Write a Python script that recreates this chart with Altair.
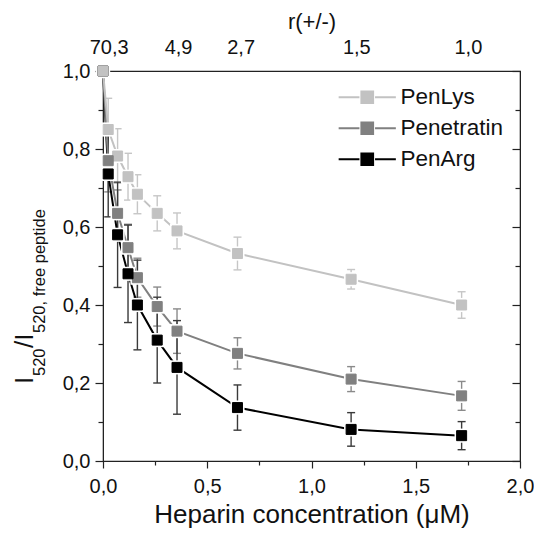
import altair as alt
import pandas as pd

# ---------------- data ----------------
series_names = ["PenLys", "Penetratin", "PenArg"]
heparin_uM = [0.0, 0.025, 0.07, 0.12, 0.165, 0.26, 0.355, 0.645, 1.19, 1.72]

penlys = [1.0, 0.85, 0.782, 0.729, 0.684, 0.635, 0.59, 0.532, 0.466, 0.40]
penlys_err = [0.0, 0.08, 0.07, 0.06, 0.05, 0.045, 0.046, 0.042, 0.025, 0.034]

penetratin = [1.0, 0.77, 0.635, 0.547, 0.47, 0.396, 0.333, 0.276, 0.21, 0.167]
penetratin_err = [0.0, 0.08, 0.06, 0.06, 0.05, 0.05, 0.057, 0.04, 0.032, 0.037]

penarg = [1.0, 0.736, 0.58, 0.48, 0.40, 0.31, 0.24, 0.137, 0.081, 0.065]
penarg_err = [0.0, 0.11, 0.135, 0.125, 0.115, 0.11, 0.12, 0.058, 0.043, 0.036]

x_ticks_major = [0.0, 0.5, 1.0, 1.5, 2.0]
x_ticks_minor = [0.25, 0.75, 1.25, 1.75]
y_ticks_major = [0.0, 0.2, 0.4, 0.6, 0.8, 1.0]
y_ticks_minor = [0.1, 0.3, 0.5, 0.7, 0.9]

r_positions = [0.027, 0.36, 0.66, 1.215, 1.75]
r_labels = ["70,3", "4,9", "2,7", "1,5", "1,0"]

line_colors = ["#c2c2c2", "#808080", "#000000"]
err_colors = ["#c6c6c6", "#8a8a8a", "#3a3a3a"]

# ---------------- table ----------------
rows = []
for si, (name, vals, errs) in enumerate(zip(series_names,
                                            [penlys, penetratin, penarg],
                                            [penlys_err, penetratin_err, penarg_err])):
    for xv, yv, ev in zip(heparin_uM, vals, errs):
        # drawing order: at x = 0 the light series sits on top, elsewhere the dark one
        z = (0, -si) if xv == 0 else (1, si)
        rows.append({"series": name, "x": xv, "y": yv,
                     "lo": yv - ev, "hi": yv + ev, "z0": z[0], "z1": z[1]})
df = pd.DataFrame(rows).sort_values(["z0", "z1", "x"]).reset_index(drop=True)

W, H = 417, 390
FONT = "Liberation Sans"
AX = "#222222"

comma_fmt = "replace(format(datum.value, '.1f'), '.', ',')"


def cond_expr(positions, labels):
    expr = f"'{labels[-1]}'"
    for i in range(len(positions) - 2, -1, -1):
        mid = (positions[i] + positions[i + 1]) / 2
        expr = f"datum.value < {mid:.4f} ? '{labels[i]}' : ({expr})"
    return expr


xs = alt.Scale(domain=[0, 2], nice=False, zero=False)
ys = alt.Scale(domain=[0, 1], nice=False, zero=False)
col_scale = alt.Scale(domain=series_names, range=line_colors)

base = alt.Chart(df)

legend_path = "M-4.4,0H-1.2M1.2,0H4.4M-0.9,-0.9H0.9V0.9H-0.9Z"
leg = alt.Legend(orient="none", legendX=253, legendY=15, title=None,
                 symbolType=legend_path, symbolSize=169, symbolStrokeWidth=2,
                 labelFontSize=22.5, labelFont=FONT, labelColor="#111111",
                 labelOffset=22, rowPadding=8, padding=0)

# ---------------- error bars (one fixed colour per series) ----------------
err_layers = []
for name, ecol in zip(series_names, err_colors):
    sub = base.transform_filter(alt.datum.series == name).transform_filter("datum.hi > datum.lo")
    err_layers.append(sub.mark_rule(strokeWidth=1.4, color=ecol).encode(
        x=alt.X("x:Q", scale=xs, axis=None),
        y=alt.Y("lo:Q", scale=ys, axis=None),
        y2="hi:Q"))
    for end in ["lo", "hi"]:
        err_layers.append(sub.mark_rule(strokeWidth=1.4, color=ecol,
                                        xOffset=-4, x2Offset=4).encode(
            x=alt.X("x:Q", scale=xs, axis=None), x2="x:Q",
            y=alt.Y(f"{end}:Q", scale=ys, axis=None)))

lines = base.mark_line(strokeWidth=2).encode(
    x=alt.X("x:Q", scale=xs, axis=None),
    y=alt.Y("y:Q", scale=ys, axis=None),
    stroke=alt.Stroke("series:N", scale=col_scale, legend=leg),
)

halo = base.mark_square(size=200, color="white", opacity=1).encode(
    x=alt.X("x:Q", scale=xs, axis=None),
    y=alt.Y("y:Q", scale=ys, axis=None),
)

squares = base.mark_square(size=100, opacity=1, strokeWidth=1).encode(
    x=alt.X("x:Q", scale=xs, axis=None),
    y=alt.Y("y:Q", scale=ys, axis=None),
    fill=alt.Fill("series:N", scale=col_scale, legend=leg),
    stroke=alt.Stroke("series:N", scale=col_scale, legend=leg),
)

# ---------------- axis carrier layers ----------------
common_ax = dict(grid=False, domainColor=AX, tickColor=AX, labelColor="#111111",
                 labelFont=FONT, titleFont=FONT, titleColor="#111111")

ax_major = base.mark_point(opacity=0).encode(
    x=alt.X("x:Q", scale=xs, axis=alt.Axis(
        orient="bottom", values=x_ticks_major, labelExpr=comma_fmt,
        tickSize=7, tickWidth=1.2, labelPadding=8, labelFontSize=20,
        labelFlush=False, title="Heparin concentration (μM)",
        titleFontSize=26, titleFontWeight="normal", titlePadding=5, **common_ax)),
    y=alt.Y("y:Q", scale=ys, axis=alt.Axis(
        orient="left", values=y_ticks_major, labelExpr=comma_fmt,
        tickSize=8, tickWidth=1.2, labelPadding=5, labelFontSize=20,
        labelFlush=False, title=None, **common_ax)),
)
ax_minor = base.mark_point(opacity=0).encode(
    x=alt.X("x:Q", scale=xs, axis=alt.Axis(
        orient="bottom", values=x_ticks_minor, labels=False, domain=False,
        tickSize=4, tickWidth=1.2, title=None, **common_ax)),
    y=alt.Y("y:Q", scale=ys, axis=alt.Axis(
        orient="left", values=y_ticks_minor, labels=False, domain=False,
        tickSize=5, tickWidth=1.2, title=None, **common_ax)),
)
ax_top_right = base.mark_point(opacity=0).encode(
    x=alt.X("x:Q", scale=xs, axis=alt.Axis(
        orient="top", values=r_positions, labelExpr=cond_expr(r_positions, r_labels),
        ticks=False, tickSize=0, labelPadding=14, labelFontSize=20, labelFlush=False,
        title="r(+/-)", titleFontSize=22, titleFontWeight="normal", titlePadding=4,
        **common_ax)),
    y=alt.Y("y:Q", scale=ys, axis=alt.Axis(
        orient="left", offset=-W, values=y_ticks_major, labels=False,
        tickSize=8, tickWidth=1.2, title=None, **common_ax)),
)
ax_right_minor = base.mark_point(opacity=0).encode(
    x=alt.X("x:Q", scale=xs, axis=None),
    y=alt.Y("y:Q", scale=ys, axis=alt.Axis(
        orient="left", offset=-W, values=y_ticks_minor, labels=False, domain=False,
        tickSize=5, tickWidth=1.2, title=None, **common_ax)),
)

# ---------------- y-axis title with subscripts ----------------
one = pd.DataFrame({"k": [0]})


def title_part(txt, size, px, py):
    return alt.Chart(one).mark_text(
        text=txt, font=FONT, fontSize=size, angle=270, align="left",
        baseline="alphabetic", color="#111111").encode(
        x=alt.value(px), y=alt.value(py))


ytitle = (title_part("I", 26, -70, 313)
          + title_part("520", 16.5, -58, 305)
          + title_part("/I", 26, -70, 277)
          + title_part("520, free peptide", 16.5, -58, 262))

chart = alt.layer(
    ax_major, ax_minor, ax_top_right, ax_right_minor,
    *err_layers, lines, halo, squares, ytitle,
).resolve_axis(x="independent", y="independent").properties(
    width=W, height=H,
    padding={"left": 95, "top": 63, "right": 14, "bottom": 72},
    autosize=alt.AutoSizeParams(type="none"),
).configure(font=FONT).configure_view(stroke=AX, strokeWidth=1.2)

chart.save("out.html", embed_options={"renderer": "svg", "actions": False})
